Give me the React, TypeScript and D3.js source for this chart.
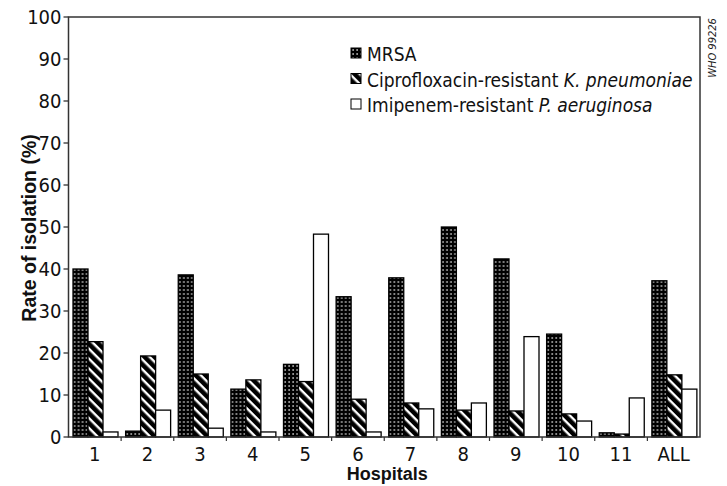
import React from "react";
import * as d3 from "d3";

const hospitals = ["1", "2", "3", "4", "5", "6", "7", "8", "9", "10", "11", "ALL"];
const mrsa = [40, 1.4, 38.6, 11.4, 17.3, 33.4, 37.9, 50, 42.4, 24.5, 1, 37.2];
const cipro = [22.7, 19.3, 15, 13.6, 13.2, 9, 8.1, 6.4, 6.2, 5.5, 0.7, 14.8];
const imipenem = [1.2, 6.4, 2.1, 1.2, 48.3, 1.2, 6.7, 8.1, 23.9, 3.8, 9.3, 11.4];
const yTicks = [0, 10, 20, 30, 40, 50, 60, 70, 80, 90, 100];

const seriesKeys = ["mrsa", "cipro", "imip"];
const seriesValues: Record<string, number[]> = { mrsa, cipro, imip: imipenem };
const fills: Record<string, string> = {
  mrsa: "url(#dots)",
  cipro: "url(#stripes)",
  imip: "#fff",
};

const narrow = "'Liberation Sans Narrow', 'DejaVu Sans Condensed', 'Arial Narrow', sans-serif";
const bold = "'Liberation Sans', Arial, sans-serif";

export default function App() {
  const width = 727;
  const height = 486;
  const left = 68.5;
  const right = 700;
  const top = 17;
  const bottom = 437;

  const x = d3.scaleBand<string>().domain(hospitals).range([left, right]).paddingInner(0);
  const inner = d3.scaleBand<string>().domain(seriesKeys).range([4.5, 49.5]);
  const y = d3.scaleLinear().domain([0, 100]).range([bottom, top]);

  return (
    <svg
      width={width}
      height={height}
      style={{ position: "absolute", left: 0, top: 0, background: "#fff" }}
    >
      <defs>
        <pattern id="dots" width="4" height="4" patternUnits="userSpaceOnUse">
          <rect width="4" height="4" fill="#000" />
          <rect x="1.5" y="1.2" width="1.2" height="1.6" fill="#fff" />
        </pattern>
        <pattern
          id="stripes"
          width="7"
          height="7"
          patternUnits="userSpaceOnUse"
          patternTransform="rotate(45)"
        >
          <rect width="7" height="7" fill="#000" />
          <rect x="0" y="0" width="7" height="2.4" fill="#fff" />
        </pattern>
      </defs>

      {/* bars */}
      {hospitals.map((h, i) => (
        <g key={h} transform={`translate(${x(h)},0)`}>
          {seriesKeys.map(k => {
            const v = seriesValues[k][i];
            return (
              <rect
                key={k}
                x={inner(k)}
                y={y(v)}
                width={inner.bandwidth()}
                height={y(0) - y(v)}
                fill={fills[k]}
                stroke="#000"
                strokeWidth={1.3}
              />
            );
          })}
        </g>
      ))}

      {/* frame */}
      <rect
        x={left}
        y={top}
        width={right - left}
        height={bottom - top}
        fill="none"
        stroke="#333"
        strokeWidth={1.5}
      />

      {/* y axis */}
      {yTicks.map(t => (
        <g key={t}>
          <line x1={left - 5} x2={left} y1={y(t)} y2={y(t)} stroke="#333" strokeWidth={1.3} />
          <text
            x={left - 7}
            y={y(t)}
            dy="0.36em"
            textAnchor="end"
            fontFamily={narrow}
            fontSize={20}
            fill="#111"
          >
            {t}
          </text>
        </g>
      ))}

      {/* x ticks at group boundaries */}
      {hospitals.slice(1).map(h => (
        <line
          key={h}
          x1={x(h)}
          x2={x(h)}
          y1={bottom}
          y2={bottom + 4}
          stroke="#333"
          strokeWidth={1.2}
        />
      ))}
      {hospitals.map(h => (
        <text
          key={h}
          x={(x(h) as number) + x.bandwidth() / 2}
          y={461}
          textAnchor="middle"
          fontFamily={narrow}
          fontSize={20}
          fill="#111"
        >
          {h}
        </text>
      ))}

      <text
        x={(left + right) / 2 + 3}
        y={480}
        textAnchor="middle"
        fontFamily={bold}
        fontWeight="bold"
        fontSize={18}
        fill="#111"
      >
        Hospitals
      </text>
      <text
        transform={`translate(36,${(top + bottom) / 2 + 1}) rotate(-90)`}
        textAnchor="middle"
        fontFamily={bold}
        fontWeight="bold"
        fontSize={19.5}
        fill="#111"
      >
        Rate of isolation (%)
      </text>

      {/* legend */}
      {seriesKeys.map((k, i) => (
        <g key={k} transform={`translate(351,${48 + i * 25.5})`}>
          <rect width={10} height={10} fill={fills[k]} stroke="#000" strokeWidth={1} />
          <text x={16} y={13} fontFamily={narrow} fontSize={19} fill="#111">
            {k === "mrsa" && "MRSA"}
            {k === "cipro" && (
              <>
                Ciprofloxacin-resistant <tspan fontStyle="italic">K. pneumoniae</tspan>
              </>
            )}
            {k === "imip" && (
              <>
                Imipenem-resistant <tspan fontStyle="italic">P. aeruginosa</tspan>
              </>
            )}
          </text>
        </g>
      ))}

      <text
        transform="translate(716,48) rotate(-90)"
        textAnchor="middle"
        fontFamily={narrow}
        fontStyle="italic"
        fontSize={11}
        fill="#222"
      >
        WHO 99226
      </text>
    </svg>
  );
}
